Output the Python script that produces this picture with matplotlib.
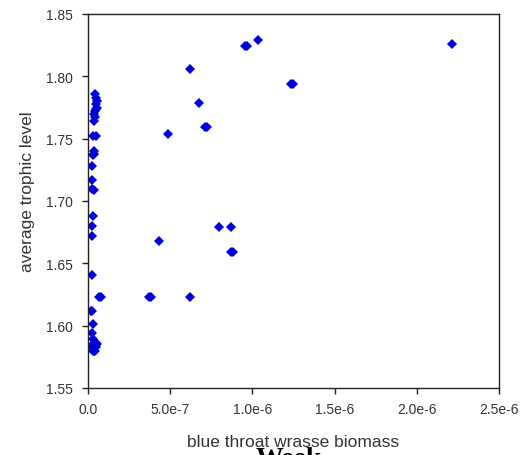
import matplotlib
matplotlib.use("Agg")
import matplotlib.pyplot as plt

# biomass of blue throat wrasse vs. average trophic level of the community
biomass = [
    2.214e-6, 1.034e-6, 0.955e-6, 0.967e-6, 1.235e-6, 1.247e-6,
    0.620e-6, 0.675e-6, 0.712e-6, 0.724e-6, 0.487e-6, 0.432e-6,
    0.371e-6, 0.383e-6, 0.620e-6, 0.067e-6, 0.079e-6,
    0.797e-6, 0.870e-6, 0.870e-6, 0.882e-6,
    0.043e-6, 0.048e-6, 0.052e-6, 0.046e-6, 0.055e-6, 0.040e-6,
    0.050e-6, 0.036e-6, 0.043e-6, 0.036e-6, 0.048e-6, 0.030e-6,
    0.036e-6, 0.030e-6, 0.036e-6, 0.024e-6, 0.024e-6, 0.036e-6,
    0.024e-6, 0.030e-6, 0.022e-6, 0.022e-6, 0.022e-6, 0.024e-6,
    0.018e-6, 0.030e-6, 0.022e-6, 0.030e-6, 0.048e-6, 0.018e-6,
    0.034e-6, 0.055e-6, 0.048e-6, 0.030e-6, 0.040e-6,
]
trophic = [
    1.826, 1.829, 1.824, 1.824, 1.794, 1.794,
    1.806, 1.779, 1.759, 1.759, 1.754, 1.668,
    1.623, 1.623, 1.623, 1.623, 1.623,
    1.679, 1.679, 1.659, 1.659,
    1.786, 1.783, 1.780, 1.778, 1.775, 1.772,
    1.774, 1.770, 1.767, 1.764, 1.752, 1.752,
    1.740, 1.737, 1.738, 1.728, 1.717, 1.709,
    1.710, 1.688, 1.680, 1.672, 1.641, 1.612,
    1.612, 1.601, 1.594, 1.589, 1.586, 1.584,
    1.580, 1.585, 1.583, 1.580, 1.580,
]

x_ticks = [0.0, 5.0e-7, 1.0e-6, 1.5e-6, 2.0e-6, 2.5e-6]
x_labels = ["0.0", "5.0e-7", "1.0e-6", "1.5e-6", "2.0e-6", "2.5e-6"]
y_ticks = [1.55, 1.60, 1.65, 1.70, 1.75, 1.80, 1.85]
y_labels = ["1.55", "1.60", "1.65", "1.70", "1.75", "1.80", "1.85"]

plt.rcParams["font.family"] = ["Liberation Sans", "DejaVu Sans"]

fig = plt.figure(figsize=(5.23, 4.56), dpi=100)
ax = fig.add_axes([88 / 523, 1 - 389 / 456, 411 / 523, 374 / 456])

ax.plot(biomass, trophic, linestyle="none", marker="D", markersize=5,
        color="#0000dd", markeredgewidth=0)

ax.set_xlim(0, 2.5e-6)
ax.set_ylim(1.55, 1.85)
ax.set_xticks(x_ticks)
ax.set_xticklabels(x_labels)
ax.set_yticks(y_ticks)
ax.set_yticklabels(y_labels)
ax.tick_params(direction="out", length=4, width=1, labelsize=10,
               labelcolor="#333333", color="#222222")
ax.tick_params(axis="y", pad=7)
ax.tick_params(axis="x", pad=6)
for spine in ax.spines.values():
    spine.set_color("#222222")
    spine.set_linewidth(1)

ax.set_xlabel("blue throat wrasse biomass", fontsize=12.5, color="#333333",
              labelpad=13)
ax.set_ylabel("average trophic level", fontsize=12.5, color="#333333",
              labelpad=8)
# y label sits a little above the middle of the axis
ax.yaxis.label.set_y(0.527)

fig.text(0.553, 1 - 447 / 456, "Week", family="Liberation Serif",
         fontweight="bold", fontsize=20, ha="center", va="top")

fig.savefig("out.png", dpi=100)
